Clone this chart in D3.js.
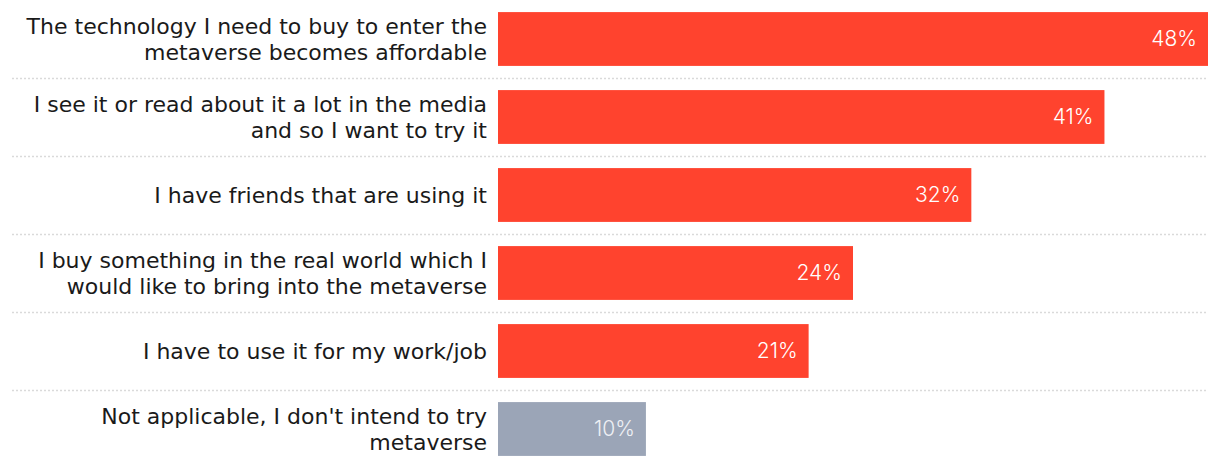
<!DOCTYPE html>
<html>
<head>
<meta charset="utf-8">
<script src="https://cdn.jsdelivr.net/npm/d3@7"></script>
<style>
  body { margin: 0; background: #fff; }
  svg { display: block; font-family: Inter, "Noto Sans", sans-serif; }
</style>
</head>
<body>
<svg id="chart" width="1220" height="470"></svg>
<script>
const labels = [
  ["The technology I need to buy to enter the", "metaverse becomes affordable"],
  ["I see it or read about it a lot in the media", "and so I want to try it"],
  ["I have friends that are using it"],
  ["I buy something in the real world which I", "would like to bring into the metaverse"],
  ["I have to use it for my work/job"],
  ["Not applicable, I don't intend to try", "metaverse"]
];
const values = [48, 41, 32, 24, 21, 10];
const highlight = [true, true, true, true, true, false];

const svg = d3.select("#chart");
const left = 498, right = 1208;

const rows = d3.range(values.length);

const x = d3.scaleLinear().domain([0, 48]).range([left, right]);
const y = d3.scaleBand().domain(rows).range([0, 468]).paddingInner(0.31).paddingOuter(0.155);

// dotted separators between rows
svg.selectAll(".sep")
  .data(rows.slice(1))
  .enter()
  .append("line")
  .attr("x1", 12)
  .attr("x2", right)
  .attr("y1", d => Math.round(y(d) - y.step() * y.paddingInner() / 2) + 0.5)
  .attr("y2", d => Math.round(y(d) - y.step() * y.paddingInner() / 2) + 0.5)
  .attr("stroke", "#dadada")
  .attr("stroke-width", 1.5)
  .attr("stroke-dasharray", "2,2");

svg.selectAll(".bar")
  .data(rows)
  .enter()
  .append("rect")
  .attr("x", x(0))
  .attr("y", d => y(d))
  .attr("width", d => x(values[d]) - x(0))
  .attr("height", y.bandwidth())
  .attr("fill", d => highlight[d] ? "#ff432e" : "#9ba5b7");

svg.selectAll(".val")
  .data(rows)
  .enter()
  .append("text")
  .attr("x", d => x(values[d]) - 11)
  .attr("y", d => y(d) + y.bandwidth() / 2)
  .attr("dy", "0.35em")
  .attr("text-anchor", "end")
  .style("font-size", "21px")
  .style("font-weight", 300)
  .style("fill", d => highlight[d] ? "#fff" : "#eef0f4")
  .text(d => values[d] + "%");

const lab = svg.selectAll(".lab")
  .data(rows)
  .enter()
  .append("text")
  .attr("text-anchor", "end")
  .style("font-family", "'DejaVu Sans', sans-serif")
  .style("font-size", "22px")
  .style("fill", "#1a1a1a");

lab.each(function (d) {
  const lines = labels[d];
  const lh = 26;
  const cy = y(d) + y.bandwidth() / 2;
  const start = cy - (lines.length - 1) * lh / 2;
  d3.select(this).selectAll("tspan")
    .data(lines)
    .enter()
    .append("tspan")
    .attr("x", 487)
    .attr("y", (l, i) => start + i * lh)
    .attr("dy", "0.35em")
    .text(l => l);
});
</script>
</body>
</html>
